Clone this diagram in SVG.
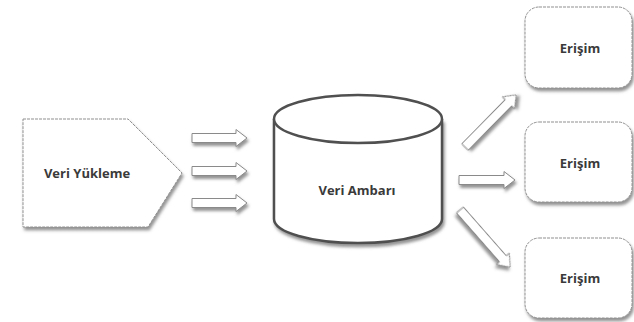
<svg xmlns="http://www.w3.org/2000/svg" width="634" height="322" viewBox="0 0 634 322">
  <defs>
    <filter id="shadow" x="-20%" y="-20%" width="150%" height="160%">
      <feDropShadow dx="1.5" dy="3" stdDeviation="1.5" flood-color="#707070" flood-opacity="0.75"/>
    </filter>
    <!-- short block arrow pointing right, tail at origin -->
    <path id="arrow55" d="M0,-4.5 H44 V-8.5 L55,0 L44,8.5 V4.5 H0 Z"/>
    <path id="arrow56" d="M0,-4.5 H45 V-8.5 L56,0 L45,8.5 V4.5 H0 Z"/>
    <path id="arrow73" d="M0,-4.5 H62 V-8.5 L73,0 L62,8.5 V4.5 H0 Z"/>
    <path id="arrow76" d="M0,-4.5 H65 V-8.5 L76,0 L65,8.5 V4.5 H0 Z"/>
  </defs>
  <style>
    .shape { fill: #ffffff; stroke: #909090; stroke-width: 1; stroke-dasharray: 3 1; filter: url(#shadow); }
    .arrow { fill: #ffffff; stroke: #8a8a8a; stroke-width: 1; filter: url(#shadow); }
    .db { fill: #ffffff; stroke: #505050; stroke-width: 2.5; }
    .label { font-family: "Open Sans", "Liberation Sans", sans-serif; font-weight: 700; font-size: 13px; fill: #3a3a3a; text-anchor: middle; dominant-baseline: central; }
  </style>
  <rect width="634" height="322" fill="#ffffff"/>

  <!-- source: data loading -->
  <g id="veri-yukleme">
    <path class="shape" d="M23,119 H128 L182,173 L148,227 H23 Z"/>
    <text class="label" x="87" y="173">Veri Yükleme</text>
  </g>

  <!-- data warehouse cylinder -->
  <g id="veri-ambari">
    <path class="db" d="M274,119 V219 A84,24 0 0 0 442,219 V119" filter="url(#shadow)"/>
    <ellipse class="db" cx="358" cy="119" rx="84" ry="24"/>
    <text class="label" x="357" y="190">Veri Ambarı</text>
  </g>

  <!-- access targets -->
  <g id="erisim-1">
    <rect class="shape" x="525" y="7" width="107" height="81" rx="14"/>
    <text class="label" x="580" y="48">Erişim</text>
  </g>
  <g id="erisim-2">
    <rect class="shape" x="525" y="122" width="107" height="80" rx="14"/>
    <text class="label" x="580" y="163">Erişim</text>
  </g>
  <g id="erisim-3">
    <rect class="shape" x="525" y="238" width="107" height="80" rx="14"/>
    <text class="label" x="580" y="278">Erişim</text>
  </g>

  <!-- flow arrows -->
  <g id="connectors">
    <use class="arrow" href="#arrow55" transform="translate(192,138)"/>
    <use class="arrow" href="#arrow55" transform="translate(192,171)"/>
    <use class="arrow" href="#arrow55" transform="translate(192,203)"/>
    <use class="arrow" href="#arrow73" transform="translate(465,147) rotate(-45.5)"/>
    <use class="arrow" href="#arrow56" transform="translate(459,180)"/>
    <use class="arrow" href="#arrow76" transform="translate(460,210) rotate(48.7)"/>
  </g>
</svg>
